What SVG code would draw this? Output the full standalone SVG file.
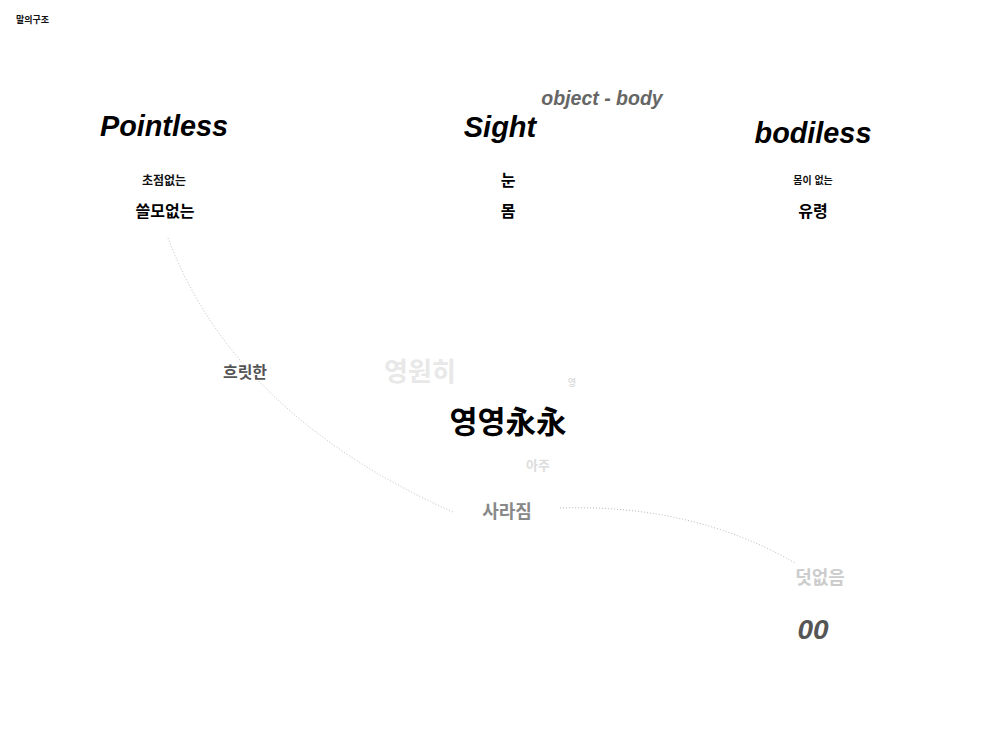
<svg xmlns="http://www.w3.org/2000/svg" width="1000" height="750" viewBox="0 0 1000 750">
<style>
text{font-family:"Liberation Sans","Noto Sans CJK KR",sans-serif;text-anchor:middle;font-weight:bold}
.en{font-style:italic}
.conn{fill:none;stroke:#bbb;stroke-width:1;stroke-dasharray:1 2}
</style>
<rect width="1000" height="750" fill="#fff"/>
<g id="title"><text x="16" y="23" font-size="9" style="text-anchor:start" fill="#111">말의구조</text></g>
<g id="connectors">
<path class="conn" d="M168,238 Q235,415 453,512"/>
<path class="conn" d="M560,508 C650,505 730,525 795,563"/>
</g>
<g id="pointless">
<text class="en" x="164" y="136" font-size="28.8" fill="#000">Pointless</text>
<text x="164" y="185" font-size="12" fill="#111">초점없는</text>
<text x="165" y="217" font-size="16" fill="#000">쓸모없는</text>
</g>
<g id="sight">
<text class="en" x="500" y="137" font-size="29" fill="#000">Sight</text>
<text class="en" x="602" y="105" font-size="19.5" fill="#666">object - body</text>
<text x="508" y="186" font-size="16" fill="#000">눈</text>
<text x="508" y="217" font-size="16" fill="#000">몸</text>
</g>
<g id="bodiless">
<text class="en" x="813" y="143" font-size="28.8" fill="#000">bodiless</text>
<text x="813" y="184" font-size="10" fill="#111">몸이 없는</text>
<text x="813" y="217" font-size="16" fill="#000">유령</text>
</g>
<g id="heurithan"><text x="245" y="378" font-size="16" fill="#555">흐릿한</text></g>
<g id="yeongwonhi"><text x="420" y="381" font-size="26" fill="#e8e8e8">영원히</text></g>
<g id="yeong-small"><text x="572" y="386" font-size="9" fill="#ddd">영</text></g>
<g id="yeongyeong"><text x="508" y="433" font-size="30.5" fill="#000">영영永永</text></g>
<g id="aju"><text x="538" y="470" font-size="13" fill="#ddd">아주</text></g>
<g id="sarajim"><text x="507" y="518" font-size="18" fill="#888">사라짐</text></g>
<g id="deoteopseum"><text x="820" y="584" font-size="18" fill="#ccc">덧없음</text></g>
<g id="zero"><text class="en" x="813" y="639" font-size="28" fill="#555">00</text></g>
</svg>
